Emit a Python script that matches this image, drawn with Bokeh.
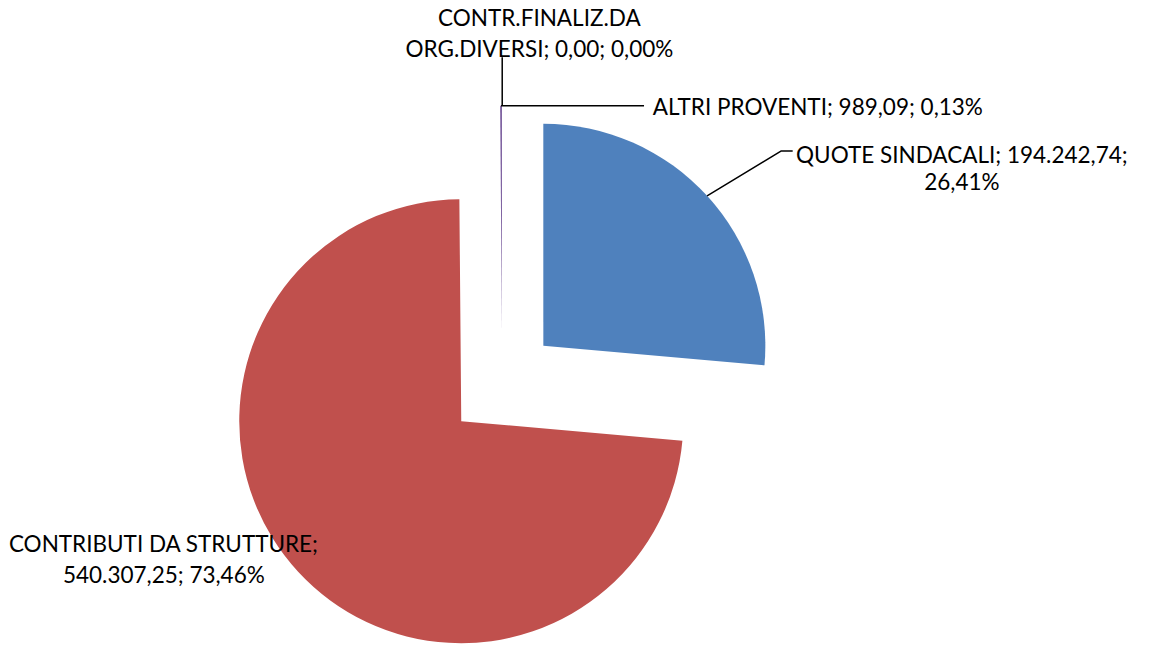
import math
import textwrap
from bokeh.plotting import figure
from bokeh.models import Range1d, ColumnDataSource
from bokeh.core.properties import value
from bokeh.embed import file_html
from bokeh.resources import INLINE

# ---------------- data ----------------
names = ["QUOTE SINDACALI", "CONTRIBUTI DA STRUTTURE", "ALTRI PROVENTI",
         "CONTR.FINALIZ.DA ORG.DIVERSI"]
amounts = [194242.74, 540307.25, 989.09, 0.00]
colors = ["#4F81BD", "#C0504D", "#8064A2", "#9BBB59"]

# ---------------- layout ----------------
W, H = 1136, 644
S = 0.978                  # screen pixels per data unit
X0, YTOP = -8.0, 658.0     # data coords at the top-left corner of the plot
CX, CY = 505.0, 266.5      # pie centre (data units, y up)
R = 227.0                  # radius
EXPLODE = 57.0             # explosion distance
FONT = "Lato"
FSIZE = f"{23 * S:.1f}px"
wrap_width = [28, 24, 40, 24]


def it_fmt(v):
    s = f"{v:,.2f}"
    return s.replace(",", "X").replace(".", ",").replace("X", ".")


total = sum(amounts)
pcts = [a / total * 100 for a in amounts]
labels = [f"{n}; {it_fmt(a)}; {it_fmt(p)}%" for n, a, p in zip(names, amounts, pcts)]
label_lines = [textwrap.wrap(l, w) for l, w in zip(labels, wrap_width)]

# slice geometry (Excel: start at 12 o'clock, clockwise)
starts, ends, ox, oy = [], [], [], []
acc = 0.0
for a in amounts:
    a0 = acc / total * 360.0
    acc += a
    a1 = acc / total * 360.0
    b = math.radians((a0 + a1) / 2)
    starts.append(a0)
    ends.append(a1)
    ox.append(CX + EXPLODE * math.sin(b))
    oy.append(CY + EXPLODE * math.cos(b))


def arc_point(i, frac=0.5):
    ang = math.radians(starts[i] + (ends[i] - starts[i]) * frac)
    return ox[i] + R * math.sin(ang), oy[i] + R * math.cos(ang)


p = figure(width=W, height=H,
           x_range=Range1d(X0, X0 + W / S), y_range=Range1d(YTOP - H / S, YTOP),
           output_backend="svg", toolbar_location=None, min_border=0,
           background_fill_color="white", border_fill_color="white")
p.axis.visible = False
p.xgrid.visible = False
p.ygrid.visible = False
p.outline_line_color = None

idx = [i for i, a in enumerate(amounts) if a > 0]
src = ColumnDataSource(dict(
    x=[ox[i] for i in idx], y=[oy[i] for i in idx],
    sa=[math.radians(90 - starts[i]) for i in idx],
    ea=[math.radians(90 - ends[i]) for i in idx],
    c=[colors[i] for i in idx]))
p.wedge(x="x", y="y", radius=R, start_angle="sa", end_angle="ea", direction="clock",
        fill_color="c", line_color=None, source=src)

# ---------------- leader lines ----------------
# QUOTE SINDACALI
qx, qy = arc_point(0)
p.line([qx, 790, 802], [qy, 504, 504], line_color="black", line_width=1.5)
# ALTRI PROVENTI
ax_, ay_ = arc_point(2)
p.line([ax_, 650], [ay_, ay_], line_color="black", line_width=1.5)
# CONTR.FINALIZ
zx, zy = arc_point(3)
p.line([zx, zx], [zy, 600], line_color="black", line_width=1.5)

# ---------------- labels ----------------
# (x, baseline y of each line, align)
label_pos = [
    (975, [501, 473], "center"),
    (159, [102.5, 71.5], "center"),
    (659, [550], "left"),
    (543, [640.5, 608.5], "center"),
]
for lines, (lx, ys, al) in zip(label_lines, label_pos):
    for txt, ly in zip(lines, ys):
        p.text(x=[lx], y=[ly], text=[txt], text_align=al, text_baseline="alphabetic",
               text_font=value(FONT), text_font_size=FSIZE, text_color="black")

open("out.html", "w").write(file_html(p, INLINE))
